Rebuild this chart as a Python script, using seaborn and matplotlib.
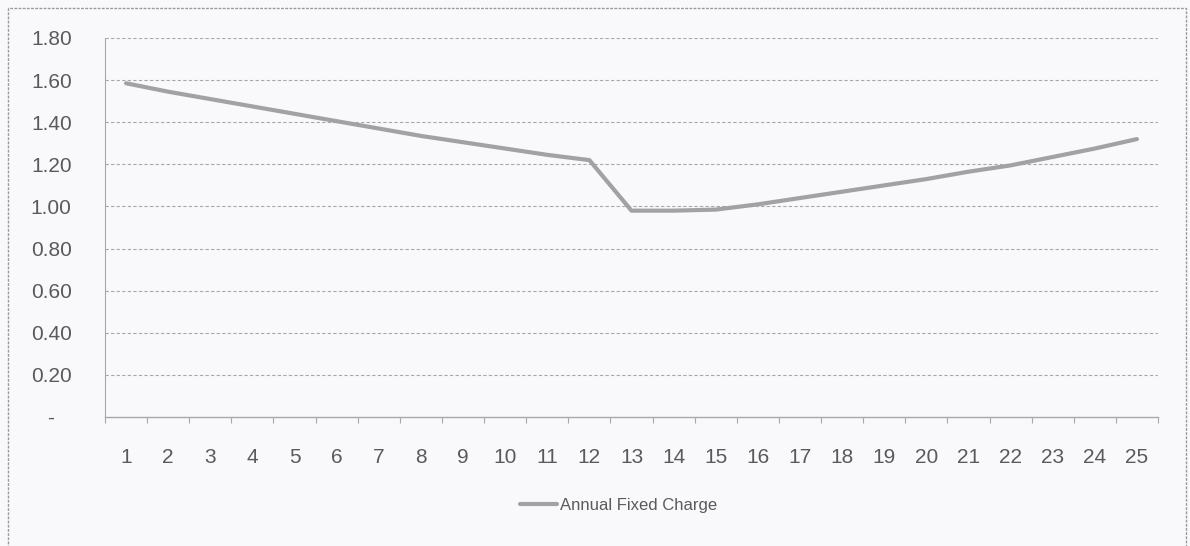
import pandas as pd
import matplotlib
matplotlib.use("Agg")
import matplotlib.pyplot as plt
import seaborn as sns
from matplotlib.patches import Rectangle

years = list(range(1, 26))
fixed_charge = [1.585, 1.545, 1.51, 1.475, 1.44, 1.405, 1.37, 1.335, 1.305, 1.275, 1.245, 1.22,
                0.98, 0.98, 0.985, 1.01, 1.04, 1.07, 1.10, 1.13, 1.165, 1.195, 1.235, 1.275, 1.32]
y_ticks = [0.0, 0.2, 0.4, 0.6, 0.8, 1.0, 1.2, 1.4, 1.6, 1.8]
y_labels = ["-   ", "0.20", "0.40", "0.60", "0.80", "1.00", "1.20", "1.40", "1.60", "1.80"]

df = pd.DataFrame({"Year": years, "Annual Fixed Charge": fixed_charge})

sns.set_style("white")
plt.rcParams["font.family"] = ["Liberation Sans", "DejaVu Sans"]

bg = "#f9f9fc"
txt = "#5a5a5a"
grid = "#a8a8a8"

fig = plt.figure(figsize=(11.9, 5.46), dpi=100, facecolor=bg)
ax = fig.add_axes([105 / 1190, 1 - 417 / 546, (1158 - 105) / 1190, (417 - 38) / 546])
ax.set_facecolor(bg)

sns.lineplot(data=df, x="Year", y="Annual Fixed Charge", ax=ax, color="#a2a2a2",
             linewidth=3.0, label="Annual Fixed Charge", legend=False)

ax.set_xlim(0.5, 25.5)
ax.set_ylim(0, 1.8)
ax.set_yticks(y_ticks)
ax.set_yticklabels(y_labels)
ax.set_xticks(years)
ax.set_xticklabels([str(y) for y in years])
ax.set_xticks([x + 0.5 for x in range(0, 26)], minor=True)
ax.tick_params(axis="x", which="major", bottom=False, length=0, pad=22, labelsize=15, colors=txt)
ax.tick_params(axis="x", which="minor", bottom=True, length=4, width=0.8, direction="out", color=grid)
ax.tick_params(axis="y", left=False, length=0, pad=24, labelsize=15, colors=txt)

for v in y_ticks[1:]:
    ax.axhline(v, color=grid, linestyle=(0, (3, 2)), linewidth=0.8, zorder=0)

for s in ["top", "right"]:
    ax.spines[s].set_visible(False)
ax.spines["left"].set_color(grid)
ax.spines["left"].set_linestyle((0, (1, 1)))
ax.spines["left"].set_linewidth(0.8)
ax.spines["bottom"].set_color(grid)
ax.spines["bottom"].set_linewidth(1.0)
ax.set_xlabel("")
ax.set_ylabel("")

handles, labels = ax.get_legend_handles_labels()
leg = fig.legend(handles, labels, loc="center", bbox_to_anchor=(0.52, 0.075), frameon=False,
                 fontsize=12, handlelength=2.2, handletextpad=0.2)
for t in leg.get_texts():
    t.set_color(txt)

fig.patches.append(Rectangle((8 / 1190, -0.05), (1186 - 8) / 1190, 1.05 - 8 / 546,
                             transform=fig.transFigure, fill=False, edgecolor="#9a9a9a",
                             linestyle=(0, (2, 1)), linewidth=1.0))

fig.savefig("out.png", dpi=100, facecolor=bg)
